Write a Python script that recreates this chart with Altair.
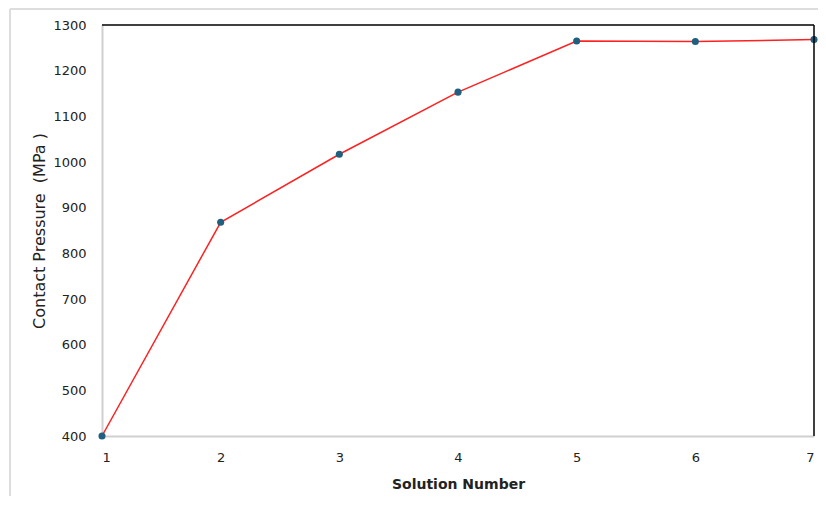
import altair as alt
import pandas as pd

solution = [1, 2, 3, 4, 5, 6, 7]
pressure = [400, 868, 1017, 1153, 1265, 1264, 1268]
y_ticks = [400, 500, 600, 700, 800, 900, 1000, 1100, 1200, 1300]

df = pd.DataFrame({"Solution": solution, "Pressure": pressure})

W, H = 712, 411

x_enc = alt.X(
    "Solution:Q",
    scale=alt.Scale(domain=[1, 7], nice=False, zero=False),
    axis=alt.Axis(
        values=solution, format="d", title="Solution Number", grid=False, ticks=False,
        domainColor="#d0d0d0", domainWidth=2, labelFont="DejaVu Sans", labelFontSize=13,
        labelColor="#222222", labelPadding=15, titleFont="DejaVu Sans", titleFontSize=14,
        titleFontWeight="bold", titleColor="#222222", titlePadding=13,
    ),
)
y_enc = alt.Y(
    "Pressure:Q",
    scale=alt.Scale(domain=[400, 1300], nice=False, zero=False),
    axis=alt.Axis(
        values=y_ticks, format="d", title="Contact Pressure\u00a0 (MPa\u00a0)", grid=False, ticks=False,
        domainColor="#d0d0d0", domainWidth=2, labelFont="DejaVu Sans", labelFontSize=13,
        labelColor="#222222", labelPadding=16, titleFont="DejaVu Sans", titleFontSize=16,
        titleFontWeight="normal", titleColor="#222222", titlePadding=5,
    ),
)

base = alt.Chart(df)
line = base.mark_line(color="#ff2020", strokeWidth=1.5).encode(x=x_enc, y=y_enc)
pts = base.mark_point(filled=True, shape="circle", size=50, color="#1f5f80", opacity=1).encode(x=x_enc, y=y_enc)

border_df = pd.DataFrame({"k": [0]})
top_rule = alt.Chart(border_df).mark_rule(color="black", strokeWidth=1.5).encode(
    x=alt.value(0), x2=alt.value(W), y=alt.value(0)
)
right_rule = alt.Chart(border_df).mark_rule(color="black", strokeWidth=1.5).encode(
    x=alt.value(W), y=alt.value(0), y2=alt.value(H)
)
frame_top = alt.Chart(border_df).mark_rule(color="#dddddd", strokeWidth=2).encode(
    x=alt.value(-92), x2=alt.value(W + 10), y=alt.value(-16)
)
frame_left = alt.Chart(border_df).mark_rule(color="#dddddd", strokeWidth=2).encode(
    x=alt.value(-92), y=alt.value(-16), y2=alt.value(H + 60)
)

chart = alt.layer(frame_top, frame_left, line, pts, top_rule, right_rule).properties(
    width=W, height=H,
    autosize=alt.AutoSizeParams(type="none"),
    padding={"left": 94, "top": 17, "right": 4, "bottom": 60},
).configure_view(stroke=None)

chart.save("out.html", embed_options={"renderer": "svg", "actions": False})
